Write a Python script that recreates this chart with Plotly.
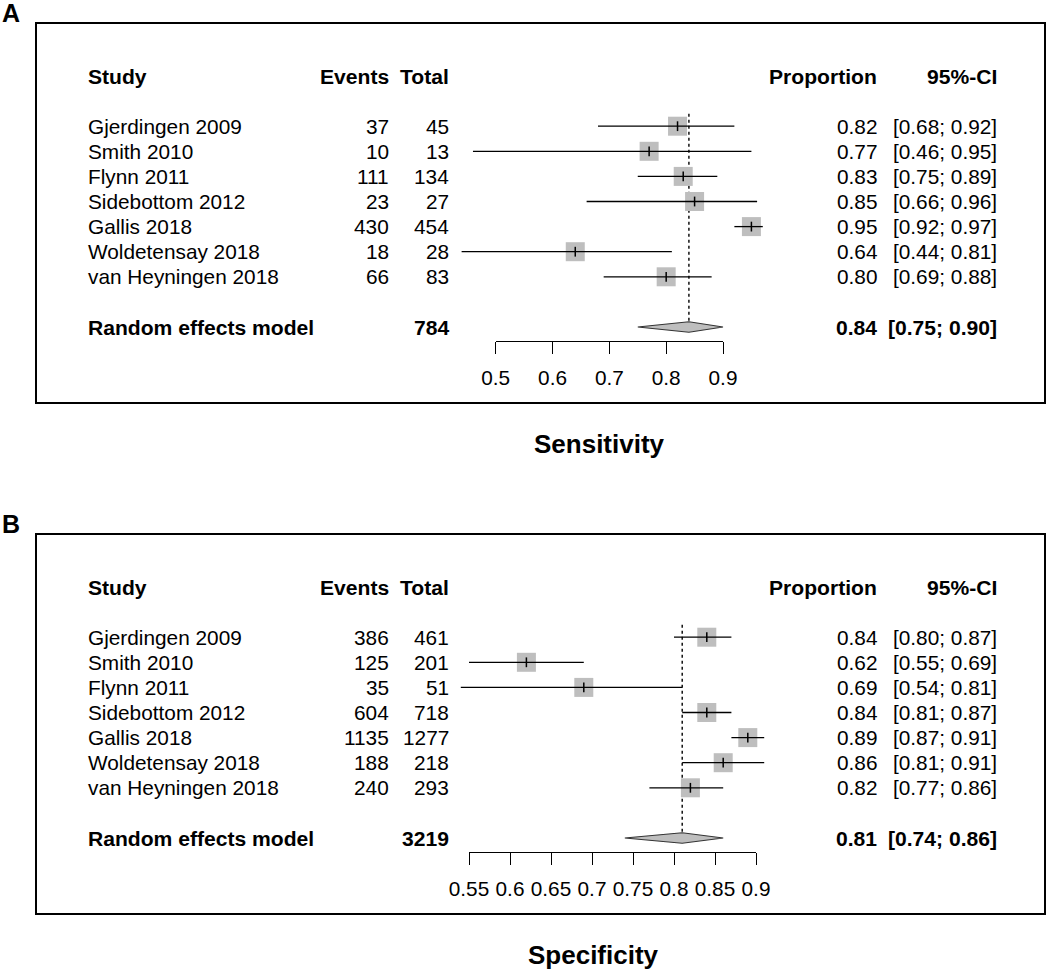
import plotly.graph_objects as go

W, H = 1050, 970

studies = ["Gjerdingen 2009", "Smith 2010", "Flynn 2011", "Sidebottom 2012",
           "Gallis 2018", "Woldetensay 2018", "van Heyningen 2018"]

# Panel A: Sensitivity
sens_events = [37, 10, 111, 23, 430, 18, 66]
sens_total = [45, 13, 134, 27, 454, 28, 83]
sens_prop = [0.82, 0.77, 0.83, 0.85, 0.95, 0.64, 0.80]
sens_lo = [0.68, 0.46, 0.75, 0.66, 0.92, 0.44, 0.69]
sens_hi = [0.92, 0.95, 0.89, 0.96, 0.97, 0.81, 0.88]
sens_re = [0.84, 0.75, 0.90]          # estimate, lower, upper
sens_re_total = 784
sens_ticks = [0.5, 0.6, 0.7, 0.8, 0.9]
sens_ticklabels = ["0.5", "0.6", "0.7", "0.8", "0.9"]

# Panel B: Specificity
spec_events = [386, 125, 35, 604, 1135, 188, 240]
spec_total = [461, 201, 51, 718, 1277, 218, 293]
spec_prop = [0.84, 0.62, 0.69, 0.84, 0.89, 0.86, 0.82]
spec_lo = [0.80, 0.55, 0.54, 0.81, 0.87, 0.81, 0.77]
spec_hi = [0.87, 0.69, 0.81, 0.87, 0.91, 0.91, 0.86]
spec_re = [0.81, 0.74, 0.86]
spec_re_total = 3219
spec_ticks = [0.55, 0.6, 0.65, 0.7, 0.75, 0.8, 0.85, 0.9]
spec_ticklabels = ["0.55", "0.6", "0.65", "0.7", "0.75", "0.8", "0.85", "0.9"]

FONT = "Liberation Sans, Arial, Helvetica, sans-serif"
FS = 20.8
FS_B = 21.1
SQ_COL = "#BEBEBE"

panels = [
    dict(label="A", title="Sensitivity", events=sens_events, total=sens_total,
         prop=sens_prop, lo=sens_lo, hi=sens_hi, re=sens_re, re_total=sens_re_total,
         ticks=sens_ticks, ticklabels=sens_ticklabels,
         off=0, tick_px=(495.7, 723.0), title_x=599),
    dict(label="B", title="Specificity", events=spec_events, total=spec_total,
         prop=spec_prop, lo=spec_lo, hi=spec_hi, re=spec_re, re_total=spec_re_total,
         ticks=spec_ticks, ticklabels=spec_ticklabels,
         off=511, tick_px=(469.0, 756.0), title_x=593),
]

fig = go.Figure()
annotations = []
shapes = []


def px(x):
    return x / W


def py(y):
    return 1 - y / H


ROW_H = 25.1
HEADER_ROW = 0
STUDY_ROWS = [2 + i for i in range(len(studies))]
RE_ROW = STUDY_ROWS[-1] + 2
DIAM_H = 0.21

for k, p in enumerate(panels):
    off = p["off"]
    n = k + 1
    xd = "x" if n == 1 else f"x{n}"          # data axis
    xa = f"x{n + 2}"                           # displayed axis
    yd = "y" if n == 1 else f"y{n}"
    box_top, axis_y, header_y, box_bot = 23 + off, 341 + off, 76 + off, 403 + off

    y_bottom = (axis_y - header_y) / ROW_H
    y_top = (box_top - header_y) / ROW_H

    t0, t1 = p["ticks"][0], p["ticks"][-1]
    p0, p1 = p["tick_px"]
    scale = (p1 - p0) / (t1 - t0)
    xr = [t0 - p0 / scale, t0 + (W - p0) / scale]

    suf = "" if n == 1 else str(n)
    fig.layout["xaxis" + suf] = dict(domain=[0, 1], range=xr, visible=False,
                                     anchor=yd, fixedrange=True, automargin=False)
    fig.layout["yaxis" + suf] = dict(domain=[py(axis_y), py(box_top)],
                                     range=[y_bottom, y_top], visible=False,
                                     anchor=xd, fixedrange=True, automargin=False)
    fig.layout[f"xaxis{n + 2}"] = dict(
        domain=[px(p0), px(p1)], range=[t0, t1], anchor=yd,
        showline=True, linecolor="black", linewidth=1.2,
        ticks="outside", ticklen=12, tickwidth=1.2, tickcolor="black",
        tickvals=p["ticks"], ticktext=p["ticklabels"],
        tickfont=dict(family=FONT, size=FS, color="black"),
        ticklabelstandoff=6, automargin=False,
        showgrid=False, zeroline=False, fixedrange=True)

    fig.add_trace(go.Scatter(x=p["ticks"], y=[RE_ROW] * len(p["ticks"]), xaxis=xa, yaxis=yd,
                             mode="markers", marker=dict(opacity=0), hoverinfo="skip",
                             showlegend=False))

    # dotted line at pooled estimate
    fig.add_trace(go.Scatter(x=[p["re"][0], p["re"][0]],
                             y=[STUDY_ROWS[0] - 0.5, RE_ROW - DIAM_H],
                             xaxis=xd, yaxis=yd, mode="lines",
                             line=dict(color="black", width=1.4, dash="dot"),
                             hoverinfo="skip", showlegend=False))

    # squares
    fig.add_trace(go.Scatter(x=p["prop"], y=STUDY_ROWS, xaxis=xd, yaxis=yd, mode="markers",
                             marker=dict(symbol="square", size=19, color=SQ_COL,
                                         line=dict(width=0)),
                             hoverinfo="skip", showlegend=False, cliponaxis=False))
    # CI lines
    cx, cy = [], []
    for lo, hi, r in zip(p["lo"], p["hi"], STUDY_ROWS):
        cx += [lo, hi, None]
        cy += [r, r, None]
    fig.add_trace(go.Scatter(x=cx, y=cy, xaxis=xd, yaxis=yd, mode="lines",
                             line=dict(color="black", width=1.3),
                             hoverinfo="skip", showlegend=False))
    # estimate ticks
    fig.add_trace(go.Scatter(x=p["prop"], y=STUDY_ROWS, xaxis=xd, yaxis=yd, mode="markers",
                             marker=dict(symbol="line-ns", size=7,
                                         line=dict(width=1.5, color="black")),
                             hoverinfo="skip", showlegend=False))
    # diamond
    est, lo, hi = p["re"]
    fig.add_trace(go.Scatter(x=[lo, est, hi, est, lo],
                             y=[RE_ROW, RE_ROW - DIAM_H, RE_ROW, RE_ROW + DIAM_H, RE_ROW],
                             xaxis=xd, yaxis=yd, mode="lines", fill="toself",
                             fillcolor=SQ_COL, line=dict(color="#333333", width=1.2),
                             hoverinfo="skip", showlegend=False))

    def ann(x, row, text, anchor, bold=False):
        annotations.append(dict(
            x=px(x), xref="paper", y=row, yref=yd, text=f"<b>{text}</b>" if bold else text,
            xanchor=anchor, yanchor="middle", showarrow=False,
            font=dict(family=FONT, size=FS_B if bold else FS, color="black"), borderpad=0))

    ann(87, HEADER_ROW, "Study", "left", True)
    ann(390, HEADER_ROW, "Events", "right", True)
    ann(450, HEADER_ROW, "Total", "right", True)
    ann(878, HEADER_ROW, "Proportion", "right", True)
    ann(998, HEADER_ROW, "95%-CI", "right", True)
    for s, e, t, pr, lo_, hi_, r in zip(studies, p["events"], p["total"], p["prop"],
                                        p["lo"], p["hi"], STUDY_ROWS):
        ann(87, r, s, "left")
        ann(390, r, str(e), "right")
        ann(450, r, str(t), "right")
        ann(878, r, f"{pr:.2f}", "right")
        ann(998, r, f"[{lo_:.2f}; {hi_:.2f}]", "right")
    ann(87, RE_ROW, "Random effects model", "left", True)
    ann(450, RE_ROW, str(p["re_total"]), "right", True)
    ann(878, RE_ROW, f"{est:.2f}", "right", True)
    ann(998, RE_ROW, f"[{lo:.2f}; {hi:.2f}]", "right", True)

    annotations.append(dict(x=px(1), y=py(13 + off), xref="paper", yref="paper",
                            text=f"<b>{p['label']}</b>", xanchor="left", yanchor="middle",
                            showarrow=False, font=dict(family=FONT, size=25, color="black"),
                            borderpad=0))
    annotations.append(dict(x=px(p["title_x"]), y=py(444 + off), xref="paper", yref="paper",
                            text=f"<b>{p['title']}</b>", xanchor="center", yanchor="middle",
                            showarrow=False, font=dict(family=FONT, size=26, color="black")))

    shapes.append(dict(type="rect", xref="paper", yref="paper",
                       x0=px(36), x1=px(1045), y0=py(box_bot), y1=py(box_top),
                       line=dict(color="black", width=2), fillcolor="rgba(0,0,0,0)"))

fig.update_layout(
    template="none",
    width=W, height=H, autosize=False,
    margin=dict(l=0, r=0, t=0, b=0, pad=0, autoexpand=False),
    paper_bgcolor="white", plot_bgcolor="rgba(0,0,0,0)",
    annotations=annotations, shapes=shapes, showlegend=False,
    font=dict(family=FONT, color="black"),
)

fig.write_html("out.html", config={"displayModeBar": False, "responsive": False},
               post_script="document.body.style.margin='0';document.body.style.overflow='hidden';")
